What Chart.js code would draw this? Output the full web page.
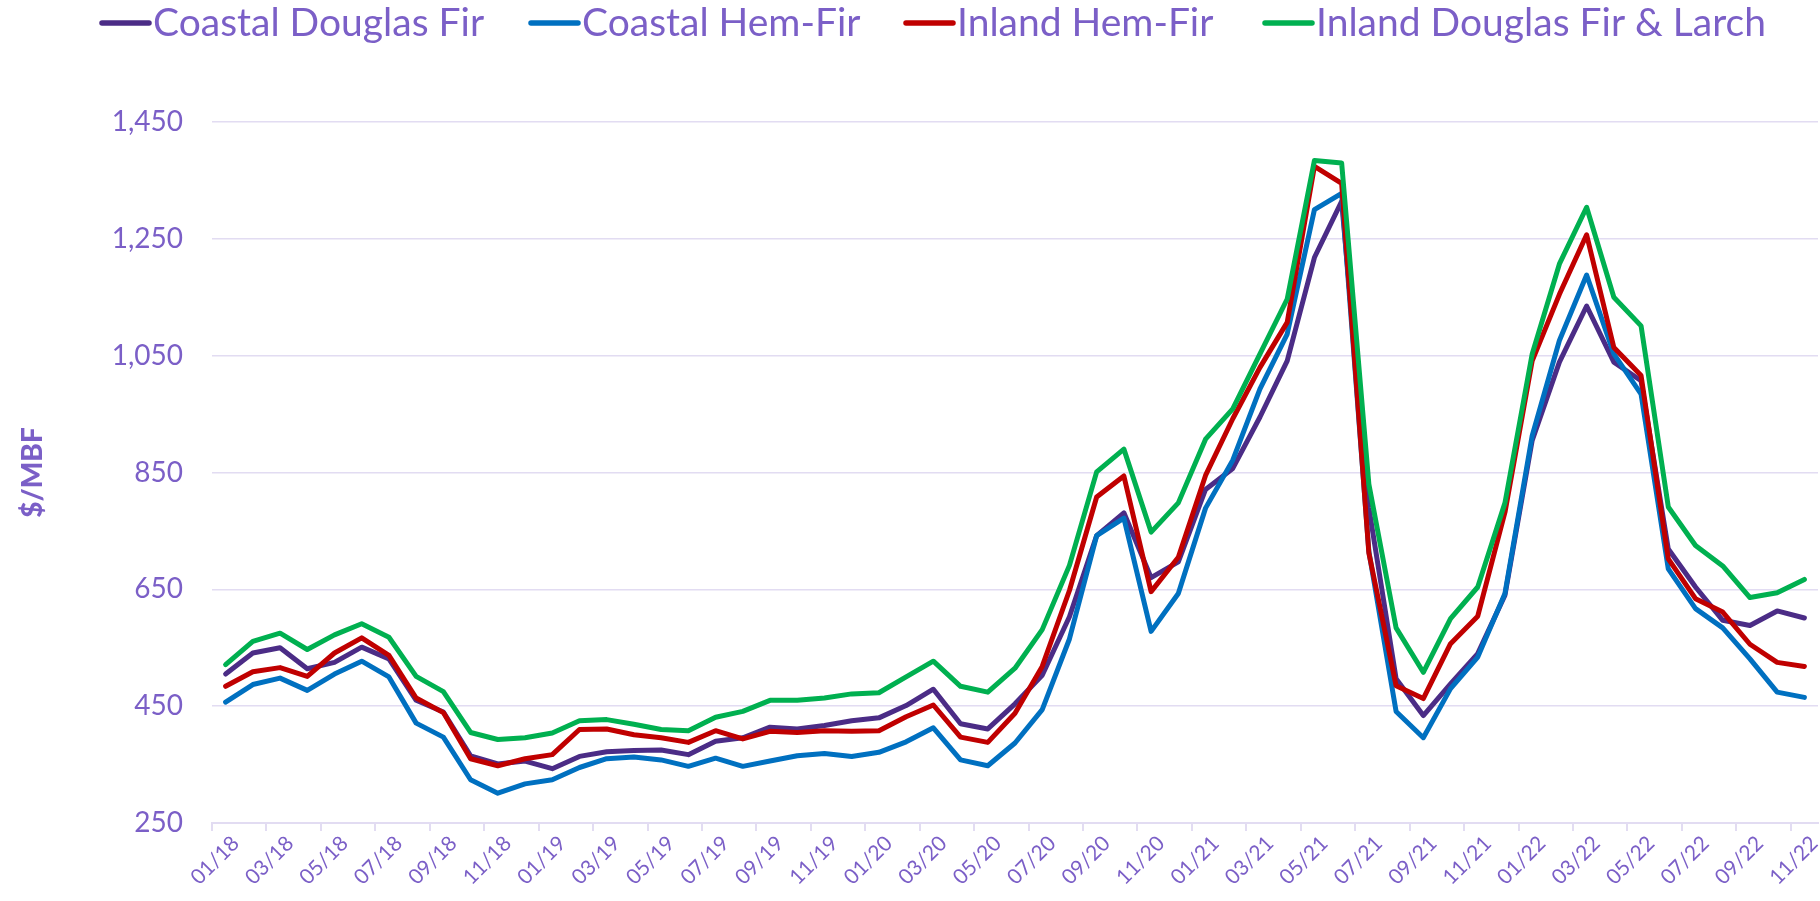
<!DOCTYPE html>
<html>
<head>
<meta charset="utf-8">
<title>Lumber prices $/MBF</title>
<script src="https://cdn.jsdelivr.net/npm/chart.js@4.4.1/dist/chart.umd.min.js"></script>
<style>
  html, body { margin: 0; padding: 0; background: #fff; }
  #wrap { width: 1820px; height: 901px; position: relative; }
</style>
</head>
<body>
<div id="wrap"><canvas id="priceChart"></canvas></div>
<script>
// monthly prices, 01/18 .. 11/22
const months = [
  '01/18','02/18','03/18','04/18','05/18','06/18','07/18','08/18','09/18','10/18','11/18','12/18',
  '01/19','02/19','03/19','04/19','05/19','06/19','07/19','08/19','09/19','10/19','11/19','12/19',
  '01/20','02/20','03/20','04/20','05/20','06/20','07/20','08/20','09/20','10/20','11/20','12/20',
  '01/21','02/21','03/21','04/21','05/21','06/21','07/21','08/21','09/21','10/21','11/21','12/21',
  '01/22','02/22','03/22','04/22','05/22','06/22','07/22','08/22','09/22','10/22','11/22'
];

const coastalDouglasFir = [
  505, 541, 550, 514, 525, 551, 531, 460, 440, 365, 351, 356,
  343, 364, 372, 374, 375, 367, 390, 396, 414, 411, 417, 425,
  430, 451, 479, 420, 411, 454, 503, 603, 742, 781, 670, 697,
  821, 857, 945, 1041, 1218, 1314, 790, 497, 434, 488, 540, 640,
  905, 1039, 1135, 1039, 1007, 719, 654, 597, 588, 613, 601
];

const coastalHemFir = [
  457, 487, 498, 477, 505, 527, 500, 421, 397, 324, 301, 317,
  324, 345, 360, 363, 358, 347, 361, 347, 356, 365, 369, 364,
  371, 389, 413, 358, 348, 387, 444, 565, 742, 772, 578, 643,
  789, 871, 993, 1087, 1300, 1328, 715, 441, 396, 480, 534, 643,
  913, 1076, 1188, 1053, 984, 685, 617, 584, 531, 474, 465
];

const inlandHemFir = [
  484, 509, 516, 501, 541, 567, 537, 464, 439, 360, 348, 360,
  367, 410, 411, 401, 396, 388, 408, 394, 407, 405, 408, 407,
  408, 432, 452, 397, 388, 438, 518, 648, 808, 844, 646, 705,
  845, 942, 1030, 1107, 1374, 1345, 712, 485, 463, 557, 604, 782,
  1041, 1155, 1257, 1064, 1016, 702, 634, 611, 556, 525, 518
];

const inlandDouglasFirLarch = [
  521, 561, 575, 547, 572, 591, 568, 501, 475, 405, 393, 396,
  404, 425, 427, 419, 410, 408, 431, 441, 460, 460, 464, 471,
  473, 500, 527, 484, 474, 515, 581, 691, 851, 890, 748, 798,
  907, 959, 1053, 1147, 1384, 1380, 830, 584, 508, 600, 654, 798,
  1053, 1207, 1304, 1150, 1101, 791, 725, 690, 636, 644, 667
];

const seriesNames = ['Coastal Douglas Fir', 'Coastal Hem-Fir', 'Inland Hem-Fir', 'Inland Douglas Fir & Larch'];
const seriesColors = ['#4B2C86', '#0070C0', '#C00000', '#00B050'];
const seriesValues = [coastalDouglasFir, coastalHemFir, inlandHemFir, inlandDouglasFirLarch];

const textColor = '#7B5FC7';
const gridColor = '#E2DCF2';
const fontFamily = 'Lato, "Open Sans", sans-serif';

// legend drawn as a line sample followed directly by the label
const legendX = [99, 528, 903, 1262];
const lineLegend = {
  id: 'lineLegend',
  afterDraw(chart) {
    const ctx = chart.ctx;
    ctx.save();
    ctx.font = `39px ${fontFamily}`;
    ctx.textBaseline = 'middle';
    chart.data.datasets.forEach((ds, i) => {
      const x = legendX[i], y = 23;
      ctx.strokeStyle = ds.borderColor;
      ctx.lineWidth = 5.5;
      ctx.lineCap = 'round';
      ctx.beginPath();
      ctx.moveTo(x + 3, y);
      ctx.lineTo(x + 50, y);
      ctx.stroke();
      ctx.fillStyle = textColor;
      ctx.fillText(ds.label, x + 54, y);
    });
    ctx.restore();
  }
};

const datasets = seriesNames.map((name, i) => ({
  label: name,
  data: seriesValues[i],
  borderColor: seriesColors[i],
  backgroundColor: seriesColors[i],
  order: seriesNames.length - i
}));

new Chart(document.getElementById('priceChart'), {
  type: 'line',
  data: { labels: months, datasets },
  options: {
    responsive: true,
    maintainAspectRatio: false,
    animation: false,
    layout: { padding: { top: 122, left: 16, right: 2, bottom: 0 } },
    plugins: { legend: { display: false }, tooltip: { enabled: false } },
    elements: {
      point: { radius: 0 },
      line: { borderWidth: 5, tension: 0, borderJoinStyle: 'round', borderCapStyle: 'round' }
    },
    scales: {
      x: {
        offset: true,
        grid: {
          offset: true,
          drawOnChartArea: false,
          tickLength: 8,
          lineWidth: 2,
          color: c => (c.index % 2 === 0 ? gridColor : 'transparent')
        },
        border: { color: gridColor, width: 2 },
        ticks: {
          autoSkip: false,
          minRotation: 45,
          maxRotation: 45,
          padding: 0,
          labelOffset: 10,
          color: textColor,
          font: { family: fontFamily, size: 21 },
          callback: (v, i) => (i % 2 === 0 ? months[i] : '')
        },
        afterFit: s => {
          s.height = 901 - 823;
          s.paddingLeft = 0;
          s.paddingRight = 0;
        }
      },
      y: {
        min: 250,
        max: 1450,
        ticks: { stepSize: 200, padding: 29, color: textColor, font: { family: fontFamily, size: 28 } },
        grid: { color: gridColor, lineWidth: 1.5, drawTicks: false },
        border: { display: false },
        title: {
          display: true,
          text: '$/MBF',
          padding: 0,
          color: textColor,
          font: { family: fontFamily, size: 28, weight: '900' }
        },
        afterFit: s => { s.width = 212 - 16; }
      }
    }
  },
  plugins: [lineLegend]
});
</script>
</body>
</html>
